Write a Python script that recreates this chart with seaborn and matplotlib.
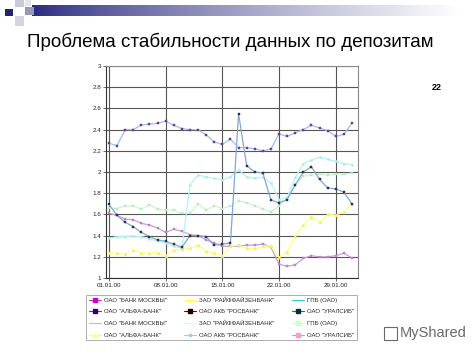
import matplotlib
matplotlib.use("Agg")
import numpy as np
import pandas as pd
import matplotlib.pyplot as plt
import seaborn as sns
from matplotlib.lines import Line2D
from matplotlib.patches import Rectangle

sns.set_style("white")
plt.rcParams["font.family"] = ["Liberation Sans", "DejaVu Sans"]

# ---------------- data ----------------
title = "Проблема стабильности данных по депозитам"
page_number = "22"
watermark = "MyShared"

days = list(range(1, 32))
tick_days = [1, 8, 15, 22, 29]
tick_labels = ["01.01.00", "08.01.00", "15.01.00", "22.01.00", "29.01.00"]
y_ticks = [1.0, 1.2, 1.4, 1.6, 1.8, 2.0, 2.2, 2.4, 2.6, 2.8, 3.0]
y_tick_labels = ["1", "1.2", "1.4", "1.6", "1.8", "2", "2.2", "2.4", "2.6", "2.8", "3"]

bank_moskvy = [2.27, 2.25, 2.40, 2.40, 2.445, 2.45, 2.46, 2.48, 2.44, 2.41, 2.40,
               2.40, 2.35, 2.285, 2.26, 2.31, 2.23, 2.23, 2.22, 2.20, 2.215, 2.36,
               2.335, 2.37, 2.40, 2.44, 2.415, 2.39, 2.335, 2.355, 2.46]
rosbank = [1.695, 1.59, 1.525, 1.485, 1.43, 1.39, 1.36, 1.345, 1.32, 1.29, 1.40,
           1.40, 1.39, 1.31, 1.32, 1.33, 2.55, 2.06, 2.00, 1.99, 1.735, 1.71,
           1.74, 1.88, 2.00, 2.05, 1.93, 1.85, 1.84, 1.81, 1.70]
raiffeisen = [1.375, 1.39, 1.39, 1.395, 1.39, 1.37, 1.345, 1.33, 1.30, 1.28, 1.88,
              1.97, 1.955, 1.94, 1.925, 1.955, 2.02, 1.955, 1.94, 1.95, 1.90, 1.74,
              1.76, 1.95, 2.08, 2.11, 2.14, 2.12, 2.10, 2.08, 2.07]
gpb = [1.66, 1.655, 1.68, 1.68, 1.65, 1.69, 1.65, 1.64, 1.64, 1.61, 1.61,
       1.70, 1.64, 1.68, 1.655, 1.68, 1.725, 1.71, 1.68, 1.65, 1.625, 1.68,
       1.75, 1.88, 1.96, 1.97, 1.98, 1.97, 1.98, 1.98, 1.99]
alfa = [1.24, 1.235, 1.23, 1.265, 1.24, 1.235, 1.24, 1.21, 1.265, 1.27, 1.28,
        1.31, 1.255, 1.235, 1.21, 1.30, 1.31, 1.28, 1.28, 1.30, 1.30, 1.195,
        1.25, 1.40, 1.50, 1.58, 1.53, 1.60, 1.595, 1.62, 1.70]
uralsib = [1.61, 1.59, 1.555, 1.55, 1.515, 1.50, 1.47, 1.43, 1.46, 1.44, 1.41,
           1.40, 1.36, 1.33, 1.30, 1.30, 1.30, 1.31, 1.31, 1.32, 1.29, 1.13,
           1.11, 1.125, 1.185, 1.21, 1.20, 1.20, 1.21, 1.233, 1.19]

legend_labels = [
    'ОАО "БАНК МОСКВЫ"', 'ОАО "АЛЬФА-БАНК"', 'ОАО "БАНК МОСКВЫ"', 'ОАО "АЛЬФА-БАНК"',
    'ЗАО "РАЙФФАЙЗЕНБАНК"', 'ОАО АКБ "РОСБАНК"', 'ЗАО "РАЙФФАЙЗЕНБАНК"', 'ОАО АКБ "РОСБАНК"',
    'ГПБ (ОАО)', 'ОАО "УРАЛСИБ"', 'ГПБ (ОАО)', 'ОАО "УРАЛСИБ"',
]

# ---------------- figure ----------------
W, H = 474, 355
fig = plt.figure(figsize=(W / 100, H / 100), dpi=100)
fig.patch.set_facecolor("white")

def fx(px):
    return px / W

def fy(py):
    return 1 - py / H

# decorative header bar
bar_ax = fig.add_axes([fx(32), fy(16), fx(460) - fx(32), 11 / H])
grad = np.linspace(0, 1, 256)
navy = np.array([0.16, 0.16, 0.50])
white = np.array([1.0, 1.0, 1.0])
t = grad ** 0.8
img = navy[None, :] * (1 - t[:, None]) + white[None, :] * t[:, None]
bar_ax.imshow(img[None, :, :], aspect="auto", extent=[0, 1, 0, 1])
bar_ax.axis("off")
for (x0, y0, w, h, c) in [(5, 9, 8, 7, "#23236e"), (15, 0, 9, 7, "#c9c9d9"),
                          (25, 7, 9, 8, "#9a9ab8"), (15, 16, 9, 10, "#d4d4e2"),
                          (25, 0, 6, 6, "#e4e4ee")]:
    fig.add_artist(Rectangle((fx(x0), fy(y0 + h)), w / W, h / H,
                             transform=fig.transFigure, color=c, lw=0))

fig.text(fx(230), fy(47), title, ha="center", va="baseline", fontsize=13.5, color="#000000")
fig.text(fx(437), fy(87), page_number, ha="center", va="center", fontsize=6.5,
         fontweight="bold", color="#000000")

ax = fig.add_axes([fx(106), fy(278), fx(358) - fx(106), (278 - 66) / H])
ax.set_facecolor("white")

series = [
    (uralsib, "#c9a0d0", "#c080c8", "s"),
    (alfa, "#ffff80", "#f2f060", "^"),
    (gpb, "#d0f5d0", "#b8ecb8", "s"),
    (raiffeisen, "#b8f0f4", "#a8ecf0", "*"),
    (rosbank, "#7fa8d8", "#303040", "s"),
    (bank_moskvy, "#9fc0ec", "#6a3aa0", "s"),
]
for vals, lc, mc, mk in series:
    df = pd.DataFrame({"day": days, "value": vals})
    sns.lineplot(data=df, x="day", y="value", ax=ax, color=lc, lw=0.9,
                 marker=mk, markersize=2.1, markerfacecolor=mc,
                 markeredgecolor=mc, markeredgewidth=0.3, legend=False)

ax.set_xlim(0.63, 31.75)
ax.set_ylim(1, 3)
ax.set_xticks(tick_days)
ax.set_xticklabels(tick_labels)
ax.set_yticks(y_ticks)
ax.set_yticklabels(y_tick_labels)
ax.set_xlabel("")
ax.set_ylabel("")
ax.grid(True, color="#555555", lw=0.8)
ax.set_axisbelow(True)
for s in ["top", "right"]:
    ax.spines[s].set_color("#8a8a8a")
    ax.spines[s].set_linewidth(0.8)
for s in ["left", "bottom"]:
    ax.spines[s].set_color("#333333")
    ax.spines[s].set_linewidth(0.8)
ax.tick_params(axis="both", labelsize=4.5, length=2, width=0.5, pad=1.5,
               colors="#333333", labelcolor="#222222")
ax.tick_params(axis="y", left=True)
ax.tick_params(axis="x", bottom=True)

# legend (column-major order for ncol=3)
leg_colors = [
    ("#cc33cc", "#cc00cc", "s"), ("#663399", "#330066", "s"), ("#99cccc", None, None), ("#ffff66", "#ffff66", "^"),
    ("#ffff66", "#ffff66", "^"), ("#660033", "#220000", "s"), ("#ccffff", None, None), ("#99ccff", "#99ccff", "*"),
    ("#33cccc", None, None), ("#336666", "#003333", "s"), ("#ccffcc", "#ccffcc", "s"), ("#cc99cc", "#ff99cc", "s"),
]
handles = []
for lc, mc, mk in leg_colors:
    if mk is None:
        handles.append(Line2D([], [], color=lc, lw=0.8))
    else:
        handles.append(Line2D([], [], color=lc, lw=0.8, marker=mk, markersize=2.3,
                              markerfacecolor=mc, markeredgecolor=mc))
leg = ax.legend(handles=handles, labels=legend_labels, ncol=3, loc="upper left",
                bbox_to_anchor=(fx(86), fy(295)), bbox_transform=fig.transFigure,
                fontsize=4.3, frameon=True, fancybox=False, edgecolor="#888888",
                handlelength=2.1, handletextpad=0.5, columnspacing=2.8,
                labelspacing=1.07, borderpad=0.45, borderaxespad=0)
leg.get_frame().set_linewidth(0.6)

fig.text(fx(400), fy(333), watermark, ha="left", va="center", fontsize=10.5, color="#6a6a6a")
fig.add_artist(Rectangle((fx(384), fy(340)), 13 / W, 13 / H, transform=fig.transFigure,
                         fill=False, edgecolor="#6a6a6a", lw=0.8))

fig.savefig("out.png", dpi=100, facecolor="white")
